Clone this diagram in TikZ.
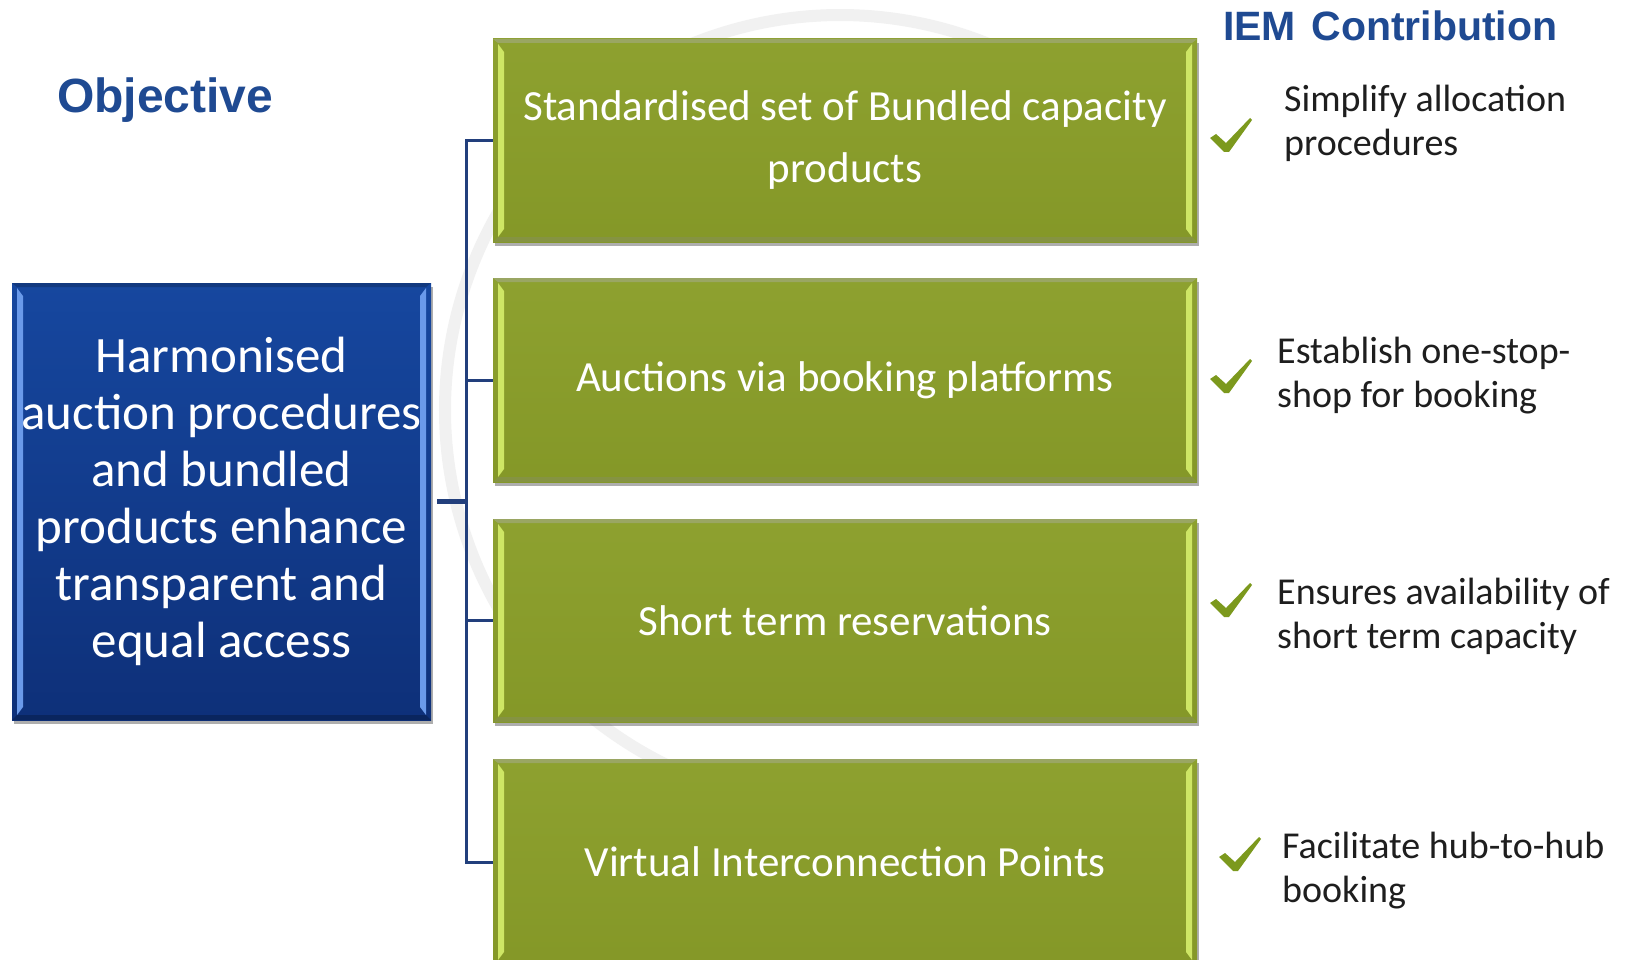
\documentclass[tikz,border=0pt]{standalone}
\usepackage{fontspec}
\setmainfont{Carlito}
\newfontfamily\headfont{Liberation Sans}
\usetikzlibrary{shadows}
\definecolor{grn}{HTML}{8A9E29}
\definecolor{grnlight}{HTML}{D6EE6C}
\definecolor{grndark}{HTML}{6F8020}
\definecolor{blutop}{HTML}{16479F}
\definecolor{blubot}{HTML}{0E3079}
\definecolor{blulight}{HTML}{6A9AEA}
\definecolor{bludark}{HTML}{0A255E}
\definecolor{headblue}{HTML}{1F4A92}
\definecolor{connc}{HTML}{223F7C}
\definecolor{chkc}{HTML}{7C991D}
\definecolor{wmark}{HTML}{F1F1F1}
\definecolor{rtext}{HTML}{1E1E1E}
\tikzset{
  bevel/.style n args={3}{path picture={
    \fill[#1] ([xshift=5pt,yshift=-5pt]path picture bounding box.north west)
      -- ([xshift=11pt,yshift=-13pt]path picture bounding box.north west)
      -- ([xshift=11pt,yshift=13pt]path picture bounding box.south west)
      -- ([xshift=5pt,yshift=5pt]path picture bounding box.south west) -- cycle;
    \fill[#1] ([xshift=-5pt,yshift=-5pt]path picture bounding box.north east)
      -- ([xshift=-11pt,yshift=-13pt]path picture bounding box.north east)
      -- ([xshift=-11pt,yshift=13pt]path picture bounding box.south east)
      -- ([xshift=-5pt,yshift=5pt]path picture bounding box.south east) -- cycle;
    \fill[#2] (path picture bounding box.south west)
      -- ([xshift=5pt,yshift=5pt]path picture bounding box.south west)
      -- ([xshift=-5pt,yshift=5pt]path picture bounding box.south east)
      -- (path picture bounding box.south east) -- cycle;
    \fill[#3] (path picture bounding box.north west)
      -- ([xshift=5pt,yshift=-4pt]path picture bounding box.north west)
      -- ([xshift=-5pt,yshift=-4pt]path picture bounding box.north east)
      -- (path picture bounding box.north east) -- cycle;
  }},
  gbox/.style={rectangle, minimum width=704pt, minimum height=203pt, inner sep=0pt,
    top color=grn!97!white, bottom color=grn!96!black, text=white,
    font=\fontsize{43}{62}\selectfont, align=center,
    drop shadow={shadow xshift=2pt, shadow yshift=-4pt, opacity=.45, fill=black!70},
    bevel={grnlight!90!grn}{grndark!85}{grndark!70}},
  bbox/.style={rectangle, minimum width=419pt, minimum height=437pt, inner sep=0pt,
    top color=blutop, bottom color=blubot, text=white,
    font=\fontsize{51}{57}\selectfont, align=center,
    drop shadow={shadow xshift=2pt, shadow yshift=-4pt, opacity=.45, fill=black!70},
    bevel={blulight}{bludark}{blutop!80!black}},
  rtxt/.style={anchor=west, inner sep=0pt, align=left, text=rtext,
    font=\fontsize{38}{44}\selectfont},
  head/.style={anchor=west, inner sep=0pt, text=headblue},
  connline/.style={draw=connc, line width=3pt, line join=miter},
  chk/.pic={\fill[chkc] (-21,3) -- (-15,-1) -- (-5,8) -- (19,-17) -- (21,-15)
      -- (-2,17) -- (-7,17) -- cycle;},
}
\begin{document}
\begin{tikzpicture}[x=1pt,y=-1pt]
\useasboundingbox (0,0) rectangle (1629,960);
\fill[white] (0,0) rectangle (1629,960);
% faint watermark
\draw[wmark, line width=12pt] (705,781.2) arc[start angle=-250, end angle=-60, radius=395];

% headers
\node[head, font=\headfont\bfseries\fontsize{48}{52}\selectfont] (hobj) at (57,100) {Objective};
\node[head, font=\headfont\bfseries\fontsize{41}{46}\selectfont] (hiem) at (1223,26) {IEM\hspace{4pt} Contribution};

% objective box
\node[bbox] (obj) at (221.5,501.5) {Harmonised\\auction procedures\\and bundled\\products enhance\\transparent and\\equal access};

% green boxes
\node[gbox] (g1) at (845,140.5) {Standardised set of Bundled capacity\\products};
\node[gbox, minimum height=204pt] (g2) at (845,380) {Auctions via booking platforms};
\node[gbox] (g3) at (845,620.5) {Short term reservations};
\node[gbox, minimum height=206pt] (g4) at (845,862) {Virtual Interconnection Points};

% connectors
\path (466,0) coordinate (vx);
\coordinate (jn) at (obj.east -| vx);
\draw[connline, line width=5pt] ([xshift=6pt]obj.east) -- (jn);
\draw[connline] (g1.west) -| (jn) |- (g4.west);
\draw[connline] (jn) |- (g2.west);
\draw[connline] (jn) |- (g3.west);

% IEM contributions
\pic at (1231,135) {chk};
\pic at (1231,376) {chk};
\pic at (1231,600) {chk};
\pic at (1240,854) {chk};
\node[rtxt] (t1) at (1284,123) {Simplify allocation\\procedures};
\node[rtxt] (t2) at (1277,376) {Establish one-stop-\\shop for booking};
\node[rtxt] (t3) at (1277,616) {Ensures availability of\\short term capacity};
\node[rtxt] (t4) at (1282,871) {Facilitate hub-to-hub\\booking};
\end{tikzpicture}
\end{document}
